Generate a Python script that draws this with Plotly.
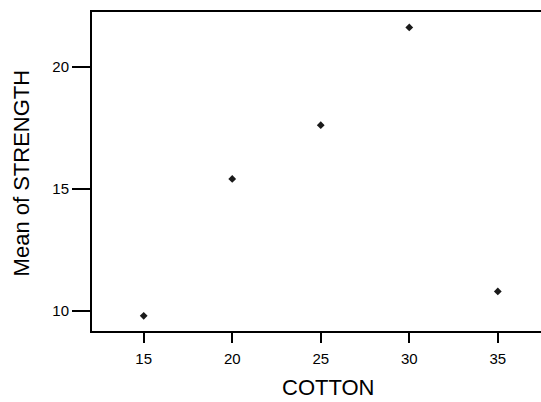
import plotly.graph_objects as go

# Main-effects style summary: mean strength by cotton percentage
cotton = [15, 20, 25, 30, 35]
mean_strength = [9.8, 15.4, 17.6, 21.6, 10.8]
x_ticks = [15, 20, 25, 30, 35]
y_ticks = [10, 15, 20]

FONT = "Liberation Sans, Arial, sans-serif"

fig = go.Figure(
    go.Scatter(
        x=cotton,
        y=mean_strength,
        mode="markers",
        marker=dict(symbol="diamond", size=6, color="#1a1a1a"),
        hoverinfo="x+y",
    )
)

fig.update_layout(
    width=541,
    height=402,
    margin=dict(l=92, r=0, t=12, b=71),
    paper_bgcolor="white",
    plot_bgcolor="white",
    showlegend=False,
    font=dict(family=FONT, size=15, color="black"),
    annotations=[
        dict(
            text="COTTON", xref="paper", yref="paper",
            x=0.525, y=-0.178, xanchor="center", yanchor="middle",
            showarrow=False, font=dict(family=FONT, size=22, color="black"),
        ),
        dict(
            text="Mean of STRENGTH", xref="paper", yref="paper",
            x=-0.156, y=0.497, xanchor="center", yanchor="middle",
            textangle=-90, showarrow=False,
            font=dict(family=FONT, size=22, color="black"),
        ),
    ],
)

fig.update_xaxes(
    range=[12.08, 37.44],
    tickvals=x_ticks,
    ticks="outside", ticklen=10, tickwidth=2, tickcolor="black",
    ticklabelstandoff=3,
    showline=True, linewidth=2, linecolor="black", mirror=True,
    showgrid=False, zeroline=False,
    tickfont=dict(family=FONT, size=15, color="black"),
)
fig.update_yaxes(
    range=[9.18, 22.23],
    tickvals=y_ticks,
    ticks="outside", ticklen=18, tickwidth=2, tickcolor="black",
    showline=True, linewidth=2, linecolor="black",
    showgrid=False, zeroline=False,
    tickfont=dict(family=FONT, size=15, color="black"),
)

fig.write_html("out.html")
